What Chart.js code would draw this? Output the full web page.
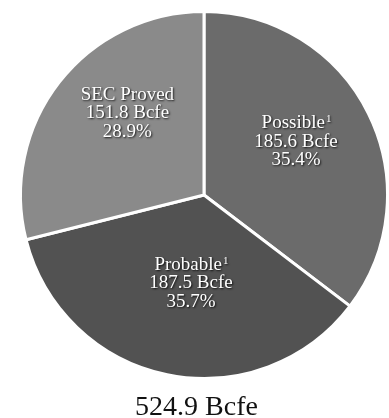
<!DOCTYPE html>
<html>
<head>
<meta charset="utf-8">
<script src="https://cdn.jsdelivr.net/npm/chart.js@4"></script>
<style>
  html, body { margin: 0; padding: 0; background: #fff; }
  #wrap { width: 389px; height: 418px; }
</style>
</head>
<body>
<div id="wrap"><canvas id="graficoReservas"></canvas></div>
<script>
// reservas por categoria
const categorias = ['Possible', 'Probable', 'SEC Proved'];
const sobrescrito = ['1', '1', ''];
const volumes = [185.6, 187.5, 151.8];       // Bcfe
const percentuais = ['35.4%', '35.7%', '28.9%'];
const total = '524.9 Bcfe';
const cores = ['#6b6b6b', '#525252', '#8a8a8a'];

const fonte = '"Liberation Serif", serif';

// rótulos brancos dentro de cada fatia + total embaixo
const rotulosFatias = {
  id: 'rotulosFatias',
  afterDatasetsDraw(chart, args, opts) {
    const ctx = chart.ctx;
    const meta = chart.getDatasetMeta(0);
    meta.data.forEach((arc, i) => {
      const p = arc.getProps(['x', 'y', 'startAngle', 'endAngle', 'outerRadius'], true);
      const ang = (p.startAngle + p.endAngle) / 2 + opts.desvioAngulo[i];
      const r = p.outerRadius * opts.raio[i];
      const cx = p.x + Math.cos(ang) * r;
      const cy = p.y + Math.sin(ang) * r;
      const linhas = [categorias[i], volumes[i].toFixed(1) + ' Bcfe', percentuais[i]];

      ctx.save();
      ctx.fillStyle = '#fff';
      ctx.shadowColor = 'rgba(0,0,0,0.85)';
      ctx.shadowOffsetX = 1;
      ctx.shadowOffsetY = 1;
      ctx.shadowBlur = 2;
      ctx.textBaseline = 'middle';
      linhas.forEach((txt, j) => {
        const y = cy + (j - 1) * 18.3;
        ctx.font = '19px ' + fonte;
        ctx.textAlign = 'center';
        if (j === 0 && sobrescrito[i]) {
          const w = ctx.measureText(txt).width;
          ctx.font = '11px ' + fonte;
          const ws = ctx.measureText(sobrescrito[i]).width;
          const x0 = cx - (w + ws) / 2;
          ctx.textAlign = 'left';
          ctx.fillText(sobrescrito[i], x0 + w + 1, y - 4);
          ctx.font = '19px ' + fonte;
          ctx.fillText(txt, x0, y);
        } else {
          ctx.fillText(txt, cx, y);
        }
      });
      ctx.restore();
    });

    // total
    ctx.save();
    ctx.fillStyle = '#111';
    ctx.font = '28px ' + fonte;
    ctx.textAlign = 'center';
    ctx.textBaseline = 'alphabetic';
    ctx.fillText(total, chart.width / 2 + 2, chart.height - 3);
    ctx.restore();
  }
};

const ctx = document.getElementById('graficoReservas').getContext('2d');
const graficoReservas = new Chart(ctx, {
  type: 'pie',
  data: {
    labels: categorias,
    datasets: [{
      data: volumes,
      backgroundColor: cores,
      borderColor: '#ffffff',
      borderWidth: 3
    }]
  },
  options: {
    responsive: true,
    maintainAspectRatio: false,
    animation: false,
    layout: { padding: { top: 8, left: 19, right: 0, bottom: 36 } },
    plugins: {
      legend: { display: false },
      tooltip: { enabled: false },
      title: { display: false },
      rotulosFatias: {
        raio: [0.58, 0.487, 0.61],
        desvioAngulo: [-0.066, -0.056, 0.155]
      }
    }
  },
  plugins: [rotulosFatias]
});
</script>
</body>
</html>
